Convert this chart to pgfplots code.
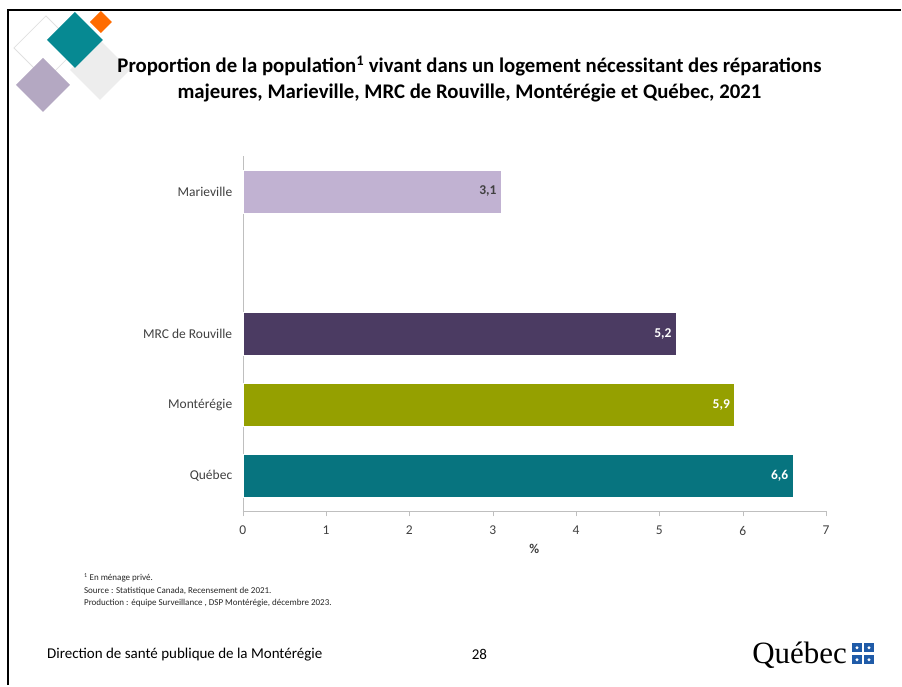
\documentclass[border=0pt]{standalone}
\usepackage{pgfplots}
\pgfplotsset{compat=1.18}
\usepackage{fontspec}
\setmainfont{Carlito}
\newfontfamily\logofont{Liberation Serif}
\definecolor{cMar}{HTML}{C1B2D2}
\definecolor{cMRC}{HTML}{4B3B62}
\definecolor{cMon}{HTML}{95A000}
\definecolor{cQue}{HTML}{07747F}
\definecolor{axgray}{HTML}{BFBFBF}
\definecolor{txt}{HTML}{404040}
\definecolor{qblue}{HTML}{1F5BA8}
\begin{document}
\begin{tikzpicture}[x=1pt,y=1pt]
% page frame (y = 686 - pixel row)
\path (0,0) rectangle (902,686);
\draw[line width=2pt,black] (8,0) -- (8,676) -- (902,676);
% decorative diamonds
\newcommand{\diam}[4]{\fill[#4] (#1,686-#2) ++(-#3,0) -- ++(#3,#3) -- ++(#3,-#3) -- ++(-#3,-#3) -- cycle;}
\draw[black!12,line width=0.8pt] (14,686-48) -- (46,686-16) -- (78,686-48) -- (46,686-80) -- cycle;
\diam{100}{70}{30}{black!7}
\diam{43}{85}{27}{cMar!80!gray}
\diam{75}{40}{28}{cQue!85!cyan}
\diam{101}{22}{11}{orange!85!red}
\fill[white,opacity=0.35] (75,686-68) -- (103,686-40) -- (88,686-55) -- cycle;
% title
\node[font=\fontsize{20.8}{26}\selectfont\bfseries,align=center,text=black] at (470,686-79)
{Proportion de la population\textsuperscript{1} vivant dans un logement nécessitant des réparations\\
majeures, Marieville, MRC de Rouville, Montérégie et Québec, 2021};
\begin{axis}[
  at={(243pt,174pt)}, anchor=south west,
  scale only axis, width=584pt, height=356pt,
  xmin=0, xmax=7, ymin=-0.5, ymax=4.5,
  axis x line=bottom, axis y line=left,
  axis line style={axgray,-},
  xtick={0,...,7}, ytick={0,1,2,4},
  yticklabels={Québec,Montérégie,MRC de Rouville,Marieville},
  x tick style={axgray}, y tick style={draw=none},
  major tick length=5pt,
  tick align=outside,
  x tick label style={font=\fontsize{13.5}{15}\selectfont,text=txt,yshift=-6pt},
  y tick label style={font=\fontsize{13.5}{15}\selectfont,text=txt,xshift=-2pt},
  /pgf/number format/assume math mode=true,
  xlabel={\textbf{\%}}, xlabel style={font=\fontsize{13.5}{15}\selectfont,text=txt,yshift=-2pt},
  xbar, bar width=43pt, bar shift=0pt,
  nodes near coords={\pgfmathprintnumber[fixed,precision=1,fixed zerofill,use comma,assume math mode=true]{\pgfplotspointmeta}},
  nodes near coords align={anchor=east},
  every node near coord/.append style={font=\fontsize{13.5}{15}\selectfont\bfseries,anchor=east,xshift=-1pt},
]
\addplot[fill=cMar,draw=white,every node near coord/.append style={text=txt}] coordinates {(3.1,4)};
\addplot[fill=cMRC,draw=white,every node near coord/.append style={text=white}] coordinates {(5.2,2)};
\addplot[fill=cMon,draw=white,every node near coord/.append style={text=white}] coordinates {(5.9,1)};
\addplot[fill=cQue,draw=white,every node near coord/.append style={text=white}] coordinates {(6.6,0)};
\end{axis}
% footnotes
\node[anchor=west,font=\fontsize{9}{12.5}\selectfont,text=black!85,align=left,inner sep=0pt] at (84,686-591)
{\textsuperscript{1} En ménage privé.\\ Source : Statistique Canada, Recensement de 2021.\\ Production : équipe Surveillance , DSP Montérégie, décembre 2023.};
% footer
\node[anchor=west,font=\fontsize{15}{18}\selectfont,inner sep=0pt] at (47,686-655) {Direction de santé publique de la Montérégie};
\node[font=\fontsize{15}{18}\selectfont,inner sep=0pt] at (480,686-655) {28};
\node[anchor=west,font=\logofont\fontsize{31}{34}\selectfont,inner sep=0pt] at (753,686-656) {Québec};
\foreach \dx in {0,1} \foreach \dy in {0,1} {
  \fill[qblue] (853+\dx*12,686-665+\dy*12) rectangle ++(10,9);
  \fill[white] (858+\dx*12,686-660.5+\dy*12) circle (1.6);
}
\end{tikzpicture}
\end{document}
